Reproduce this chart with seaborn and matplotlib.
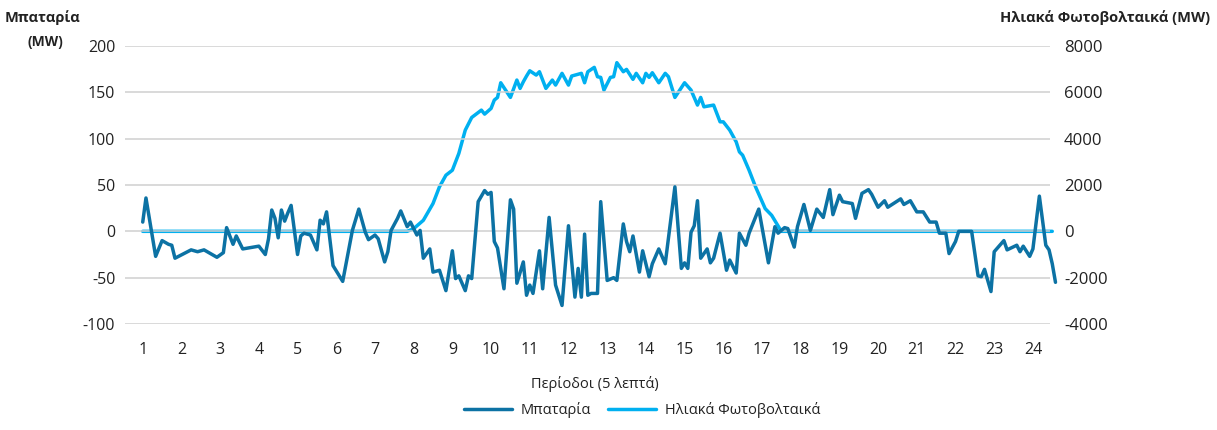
import numpy as np
import pandas as pd
import matplotlib
matplotlib.use("Agg")
import matplotlib.pyplot as plt
import seaborn as sns

# ---- data (5-minute periods, 0 = first period of hour 1) ----
battery_period = [0, 1, 4, 6, 8, 9, 10, 15, 17, 19, 21, 23, 25, 26, 28, 29, 31, 36, 38, 39,
                  40, 41, 42, 43, 44, 45, 46, 48, 49, 50, 52, 54, 55, 56, 57, 59, 62, 65, 67, 69,
                  70, 72, 73, 75, 76, 77, 79, 80, 82, 83, 85, 86, 87, 89, 90, 92, 94, 96, 97, 98,
                  100, 101, 102, 104, 106, 107, 108, 109, 110, 112, 114, 115, 116, 118, 119, 120, 121, 123, 124, 126,
                  128, 130, 132, 134, 135, 136, 137, 138, 139, 141, 142, 144, 146, 147, 149, 150, 151, 152, 154, 155,
                  157, 158, 160, 162, 165, 167, 168, 169, 170, 171, 172, 173, 175, 176, 177, 179, 181, 182, 184, 185,
                  187, 188, 191, 194, 196, 197, 199, 200, 202, 203, 205, 207, 209, 211, 213, 214, 216, 217, 220, 221,
                  223, 225, 226, 228, 230, 231, 235, 236, 238, 240, 242, 244, 246, 247, 249, 250, 252, 253, 257, 259,
                  260, 261, 263, 264, 267, 268, 271, 272, 273, 275, 276, 278, 280, 281, 282, 283]
battery_mw = [10, 36, -27, -10, -14, -15, -29, -20, -22, -20, -24, -28, -23, 4, -14, -5, -19, -16, -25, -8,
              23, 14, -7, 23, 11, 20, 28, -25, -5, -2, -4, -20, 12, 8, 21, -37, -54, 1, 24, -1,
              -9, -4, -8, -33, -22, 1, 14, 22, 5, 10, -4, 1, -29, -19, -44, -42, -64, -21, -51, -48,
              -64, -48, -51, 32, 44, 40, 42, -11, -18, -62, 34, 24, -56, -33, -69, -58, -67, -21, -62, 15,
              -58, -80, 6, -71, -40, -71, -3, -69, -67, -67, 32, -53, -50, -53, 8, -11, -22, -5, -44, -21,
              -49, -35, -19, -35, 48, -40, -34, -40, -1, 6, 33, -29, -19, -34, -29, -2, -42, -31, -45, -2,
              -15, -2, 24, -34, 5, -2, 4, 3, -17, 5, 29, 1, 24, 15, 45, 18, 39, 32, 30, 14,
              41, 45, 40, 26, 33, 26, 35, 29, 33, 21, 21, 10, 10, -2, -2, -24, -11, 0, 0, -48,
              -49, -41, -65, -22, -10, -20, -15, -22, -16, -27, -19, 38, -15, -20, -35, -55]

pv_period = [0, 82, 84, 87, 90, 92, 94, 96, 98, 100, 102, 105, 106, 108, 109, 110, 111, 114, 116, 117,
             118, 119, 120, 122, 123, 125, 127, 128, 130, 132, 133, 136, 137, 138, 140, 141, 142, 143, 145, 146,
             147, 149, 150, 152, 153, 155, 156, 157, 158, 160, 162, 163, 165, 168, 170, 172, 173, 174, 177, 179,
             180, 182, 184, 185, 186, 188, 190, 193, 195, 198, 282]
pv_mw = [0, 0, 115, 476, 1200, 1922, 2422, 2638, 3360, 4368, 4915, 5232, 5060, 5305, 5665, 5780, 6413, 5780, 6530, 6170,
         6455, 6703, 6930, 6745, 6890, 6170, 6530, 6313, 6820, 6313, 6703, 6820, 6413, 6890, 7078, 6673, 6645, 6097, 6645, 6673,
         7280, 6890, 6990, 6560, 6820, 6413, 6820, 6645, 6846, 6413, 6820, 6673, 5780, 6413, 6097, 5450, 5780, 5375, 5450, 4727,
         4727, 4368, 3863, 3430, 3286, 2638, 1922, 980, 692, 0, 0]

hour_labels = [str(h) for h in range(1, 25)]
hour_tick_periods = [12 * (h - 1) for h in range(1, 25)]

right_label = "Ηλιακά Φωτοβολταικά (MW)"
x_label = "Περίοδοι (5 λεπτά)"
battery_name = "Μπαταρία"
pv_name = "Ηλιακά Φωτοβολταικά"

battery_color = "#0C72A4"
pv_color = "#00B0F0"

# ---- plotting ----
sns.set_theme(style="white")
plt.rcParams["font.family"] = ["Open Sans", "DejaVu Sans"]
plt.rcParams["axes.unicode_minus"] = False

fig = plt.figure(figsize=(12.17, 4.30), dpi=100)
ax = fig.add_axes([125 / 1217, 1 - 324 / 430, (1050 - 125) / 1217, (324 - 46) / 430])
ax2 = ax.twinx()

df_b = pd.DataFrame({"period": battery_period, "value": battery_mw})
df_p = pd.DataFrame({"period": pv_period, "value": pv_mw})

sns.lineplot(data=df_b, x="period", y="value", ax=ax, color=battery_color, lw=2.5,
             label=battery_name, legend=False, zorder=3, clip_on=False)
sns.lineplot(data=df_p, x="period", y="value", ax=ax2, color=pv_color, lw=2.5,
             label=pv_name, legend=False, zorder=2, clip_on=False)

ax.set_zorder(ax2.get_zorder() + 1)
ax.patch.set_visible(False)

ax.set_xlim(-5.5, 281.3)
ax.set_ylim(-100, 200)
ax2.set_ylim(-4000, 8000)
ax.set_yticks(np.arange(-100, 201, 50))
ax2.set_yticks(np.arange(-4000, 8001, 2000))
ax.set_xticks(hour_tick_periods)
ax.set_xticklabels(hour_labels)

for a in (ax, ax2):
    for s in a.spines.values():
        s.set_visible(False)
ax.grid(False)
ax2.grid(False)
ax.yaxis.grid(True, color="#cfcfcf", lw=1.1)

ax.tick_params(axis="y", length=0, pad=7, labelsize=11.5, labelcolor="#222222")
ax2.tick_params(axis="y", length=0, pad=10, labelsize=12, labelcolor="#222222")
ax.tick_params(axis="x", length=0, pad=13, labelsize=11.5, labelcolor="#222222")

ax.set_xlabel("")
ax.set_ylabel("")
ax2.set_ylabel("")

fig.text(5 / 1217, 1 - 18 / 430, "Μπαταρία", ha="left", va="center", fontsize=10.5,
         fontweight="bold", color="#222222")
fig.text(45 / 1217, 1 - 42 / 430, "(MW)", ha="center", va="center", fontsize=10,
         fontweight="bold", color="#222222")
fig.text(1210 / 1217, 1 - 18 / 430, right_label, ha="right", va="center", fontsize=10.5,
         fontweight="bold", color="#222222")
fig.text(595 / 1217, 1 - 384 / 430, x_label, ha="center", va="center", fontsize=10.5,
         color="#222222")

h1, l1 = ax.get_legend_handles_labels()
h2, l2 = ax2.get_legend_handles_labels()
fig.legend(h1 + h2, l1 + l2, loc="center", bbox_to_anchor=(642 / 1217, 1 - 410 / 430),
           ncol=2, frameon=False, fontsize=10.5, handlelength=3.3, columnspacing=1.2,
           handletextpad=0.6, labelcolor="#222222")

fig.savefig("out.png", dpi=100)
